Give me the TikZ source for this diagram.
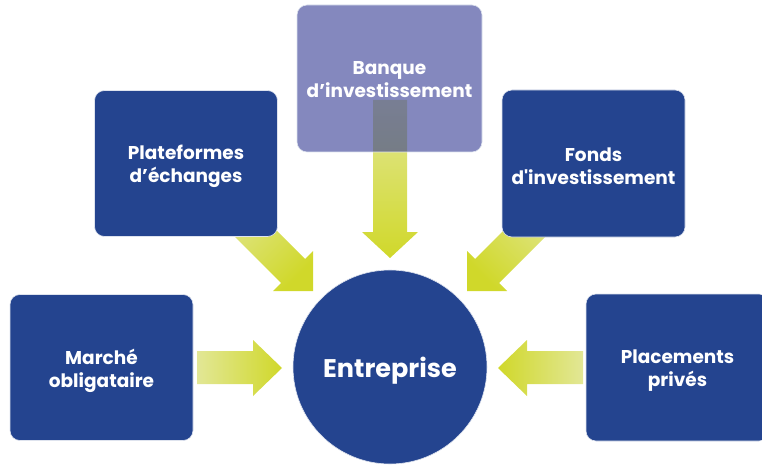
\documentclass[tikz,border=0pt]{standalone}
\usepackage{fontspec}
\newfontfamily\pop{Poppins}
\definecolor{navy}{RGB}{36,68,143}
\definecolor{lav}{RGB}{50,57,147}
\definecolor{ydark}{RGB}{208,216,42}
\definecolor{ylight}{RGB}{226,231,150}
\begin{document}
\begin{tikzpicture}[x=1pt,y=1pt,
  boxstyle/.style={rounded corners=10pt, fill=navy, draw=white!85!navy, line width=0.6pt,
    minimum width=183pt, minimum height=146pt, inner sep=0pt},
  txt/.style={text=white, align=center, inner sep=0pt, text opacity=1, fill opacity=1, yshift=-3pt,
    font=\pop\bfseries\fontsize{18.5}{23}\selectfont},
  hshade/.style={left color=ylight, right color=ydark},
  rshade/.style={left color=ydark, right color=ylight},
  vshade/.style={top color=ylight, bottom color=ydark},
  dlshade/.style={top color=ylight, bottom color=ydark, shading angle=45},
  drshade/.style={top color=ylight, bottom color=ydark, shading angle=-45}]
\useasboundingbox (0,0) rectangle (762,464);
% arrows (behind)
\shade[vshade] (373,364)--(373,232)--(362,232)--(390,206)--(418,232)--(407,232)--(407,364)--cycle;
\shade[dlshade] (211,251)--(281,181)--(273,173)--(313,173)--(313,213)--(305,205)--(235,275)--cycle;
\shade[drshade] (569,251)--(499,181)--(507,173)--(467,173)--(467,213)--(475,205)--(545,275)--cycle;
\shade[hshade] (197,80)--(253,80)--(253,68)--(282,96)--(253,124)--(253,113)--(197,113)--cycle;
\shade[rshade] (583,80)--(527,80)--(527,68)--(498,96)--(527,124)--(527,113)--(583,113)--cycle;
% boxes
\node[boxstyle, label={[txt]center:Marché\\obligataire}] (marche) at (101.5,96.5) {};
\node[boxstyle, label={[txt]center:Plateformes\\d’échanges}] (plat) at (186,300.5) {};
\node[boxstyle, fill=lav, fill opacity=0.6, minimum width=185pt, minimum height=147pt,
  label={[txt, yshift=2pt]center:Banque\\d’investissement}] (banque) at (389.5,385.5) {};
\node[boxstyle, minimum height=147pt, label={[txt]center:Fonds\\d'investissement}] (fonds) at (593.5,300.5) {};
\node[boxstyle, minimum height=147pt, label={[txt]center:Placements\\privés}] (plac) at (677.5,96.5) {};
% circle
\node[circle, fill=navy, draw=white!85!navy, line width=0.6pt, minimum size=194pt, inner sep=0pt,
  label={[txt, yshift=-1pt, font=\pop\bfseries\fontsize{25.5}{30}\selectfont]center:Entreprise}] (ent) at (390,97) {};
\end{tikzpicture}
\end{document}
